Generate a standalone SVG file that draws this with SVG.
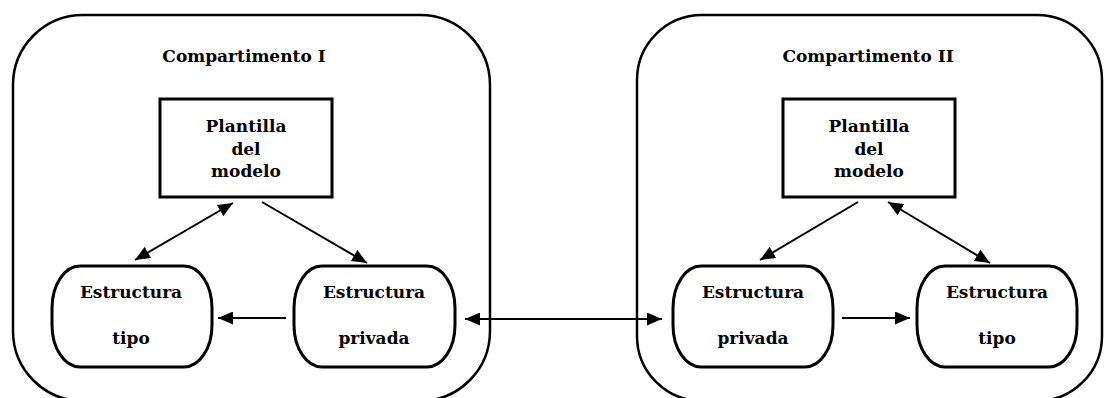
<svg xmlns="http://www.w3.org/2000/svg" width="1104" height="398" viewBox="0 0 1104 398">
<style>
  .cont { fill: none; stroke: #000; stroke-width: 2.5; }
  .box { fill: #fff; stroke: #000; stroke-width: 3; }
  .t { font-family: "DejaVu Serif", "Liberation Serif", serif; font-weight: bold; font-size: 17px; fill: #000; text-anchor: middle; }
  .title { font-size: 17px; }
  .conn { fill: none; stroke: #000; stroke-width: 2; }
</style>
<defs>
  <marker id="ah" viewBox="0 0 15 13" refX="15" refY="6.5" markerWidth="15" markerHeight="13" markerUnits="userSpaceOnUse" orient="auto-start-reverse">
    <path d="M0,0 L15,6.5 L0,13 z" fill="#000"/>
  </marker>
</defs>
<rect width="1104" height="398" fill="#fff"/>

<g id="compartimento-1">
  <rect class="cont" x="13" y="15" width="477" height="386" rx="70" ry="70"/>
  <text class="t title" x="244" y="62">Compartimento I</text>
</g>
<g id="compartimento-2">
  <rect class="cont" x="637" y="15" width="465" height="386" rx="65" ry="65"/>
  <text class="t title" x="868" y="62">Compartimento II</text>
</g>

<g id="plantilla-1">
  <rect class="box" x="160" y="99" width="172" height="98"/>
  <text class="t" x="246" y="132">Plantilla</text>
  <text class="t" x="246" y="155">del</text>
  <text class="t" x="246" y="177">modelo</text>
</g>
<g id="tipo-1">
  <rect class="box" x="52" y="266" width="160" height="101" rx="28" ry="42"/>
  <text class="t" x="131" y="298">Estructura</text>
  <text class="t" x="131" y="344">tipo</text>
</g>
<g id="privada-1">
  <rect class="box" x="294" y="266" width="161" height="101" rx="28" ry="42"/>
  <text class="t" x="374" y="298">Estructura</text>
  <text class="t" x="374" y="344">privada</text>
</g>

<g id="plantilla-2">
  <rect class="box" x="783" y="99" width="172" height="98"/>
  <text class="t" x="869" y="132">Plantilla</text>
  <text class="t" x="869" y="155">del</text>
  <text class="t" x="869" y="177">modelo</text>
</g>
<g id="privada-2">
  <rect class="box" x="673" y="266" width="160" height="101" rx="28" ry="42"/>
  <text class="t" x="753" y="298">Estructura</text>
  <text class="t" x="753" y="344">privada</text>
</g>
<g id="tipo-2">
  <rect class="box" x="917" y="266" width="160" height="101" rx="28" ry="42"/>
  <text class="t" x="997" y="298">Estructura</text>
  <text class="t" x="997" y="344">tipo</text>
</g>

<g id="connectors">
  <line class="conn" x1="233" y1="203" x2="135" y2="260" marker-start="url(#ah)" marker-end="url(#ah)"/>
  <line class="conn" x1="262" y1="202" x2="367" y2="263" marker-end="url(#ah)"/>
  <line class="conn" x1="286" y1="318" x2="218" y2="318" marker-end="url(#ah)"/>
  <line class="conn" x1="465" y1="319" x2="662" y2="319" marker-start="url(#ah)" marker-end="url(#ah)"/>
  <line class="conn" x1="858" y1="202" x2="760" y2="260" marker-end="url(#ah)"/>
  <line class="conn" x1="888" y1="202" x2="990" y2="263" marker-start="url(#ah)" marker-end="url(#ah)"/>
  <line class="conn" x1="842" y1="318" x2="910" y2="318" marker-end="url(#ah)"/>
</g>
</svg>
